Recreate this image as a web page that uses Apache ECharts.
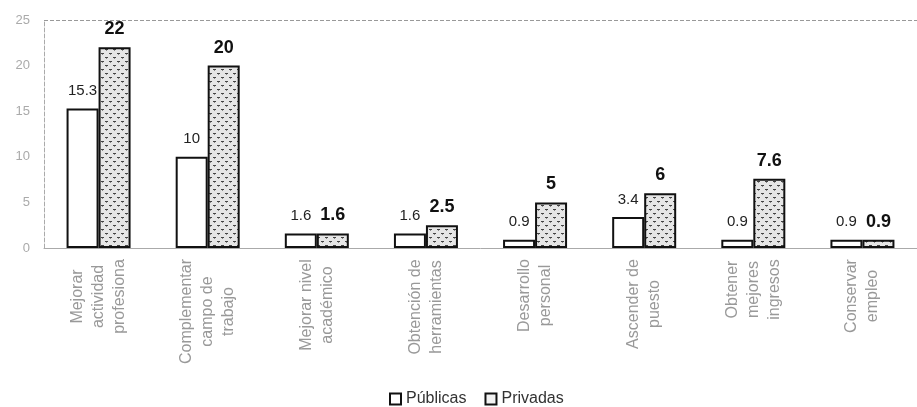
<!DOCTYPE html>
<html><head><meta charset="utf-8">
<script src="https://cdn.jsdelivr.net/npm/echarts@6/dist/echarts.min.js"></script>
<style>html,body{margin:0;padding:0;background:#fff}#c{width:917px;height:407px}</style>
</head><body><div id="c"></div>
<script>
const categories = ["Mejorar\nactividad\nprofesiona","Complementar\ncampo de\ntrabajo","Mejorar nivel\nacadémico","Obtención de\nherramientas","Desarrollo\npersonal","Ascender de\npuesto","Obtener\nmejores\ningresos","Conservar\nempleo"];
const publicas = [15.3, 10, 1.6, 1.6, 0.9, 3.4, 0.9, 0.9];
const privadas = [22, 20, 1.6, 2.5, 5, 6, 7.6, 0.9];
const yTicks = [0, 5, 10, 15, 20, 25];

function makePattern(){
  const c = document.createElement('canvas');
  c.width = 8; c.height = 8;
  const g = c.getContext('2d');
  g.fillStyle = '#e6e6e6'; g.fillRect(0,0,8,8);
  g.fillStyle = '#444';
  g.fillRect(1,1,3,1); g.fillRect(5,5,3,1);
  g.fillStyle = '#888';
  g.fillRect(2,2,1,1); g.fillRect(6,6,1,1);
  return c;
}
const font = 'Liberation Sans, Arial, sans-serif';
const labelSize = 16;
const mctx = document.createElement('canvas').getContext('2d');
mctx.font = labelSize + 'px ' + font;
const rich = {};
categories.forEach(function (c, i) {
  let w = 0;
  c.split('\n').forEach(function (l) { w = Math.max(w, mctx.measureText(l).width); });
  rich['w' + i] = {width: Math.ceil(w), align: 'center', fontSize: labelSize, lineHeight: 21, color: '#999', fontFamily: font};
});

const chart = echarts.init(document.getElementById('c'));
chart.setOption({
  animation: false,
  textStyle: {fontFamily: font},
  grid: {left: 44, top: 20, width: 882, height: 228, containLabel: false},
  legend: {
    top: 391, left: 389, padding: 0, icon: 'rect', itemWidth: 11, itemHeight: 11, itemGap: 18,
    textStyle: {fontSize: 16, color: '#333', fontFamily: font},
    data: [
      {name: 'Públicas', itemStyle: {color: '#fff', borderColor: '#111', borderWidth: 2}},
      {name: 'Privadas', itemStyle: {color: '#f2f2f2', borderColor: '#111', borderWidth: 2}}
    ]
  },
  xAxis: {
    type: 'category', data: categories,
    axisLine: {lineStyle: {color: '#aaa', width: 1}},
    axisTick: {show: false},
    axisLabel: {
      rotate: 90, interval: 0, margin: 11, color: '#999', fontFamily: font,
      formatter: function (v, i) { return v.split('\n').map(function (l) { return '{w' + i + '|' + l + '}'; }).join('\n'); },
      rich: rich
    }
  },
  yAxis: {
    type: 'value', min: yTicks[0], max: yTicks[yTicks.length-1], interval: 5,
    axisLine: {show: true, lineStyle: {color: '#aaa', type: 'dashed'}},
    axisTick: {show: false},
    axisLabel: {margin: 14, fontSize: 13, color: '#aaa', fontFamily: font},
    splitLine: {show: true, lineStyle: {color: ['rgba(0,0,0,0)','rgba(0,0,0,0)','rgba(0,0,0,0)','rgba(0,0,0,0)','rgba(0,0,0,0)','#999'], type: 'dashed'}}
  },
  series: [
    {
      name: 'Públicas', type: 'bar', data: publicas, barWidth: 32, barGap: '0%',
      itemStyle: {color: '#ffffff', borderColor: '#111', borderWidth: 2},
      label: {show: true, position: 'top', distance: 10, fontSize: 15, color: '#222', fontFamily: font}
    },
    {
      name: 'Privadas', type: 'bar', data: privadas, barWidth: 32,
      itemStyle: {color: {image: makePattern(), repeat: 'repeat'}, borderColor: '#111', borderWidth: 2},
      label: {show: true, position: 'top', distance: 9, fontSize: 18, fontWeight: 'bold', color: '#111', fontFamily: font}
    }
  ]
});
</script></body></html>
